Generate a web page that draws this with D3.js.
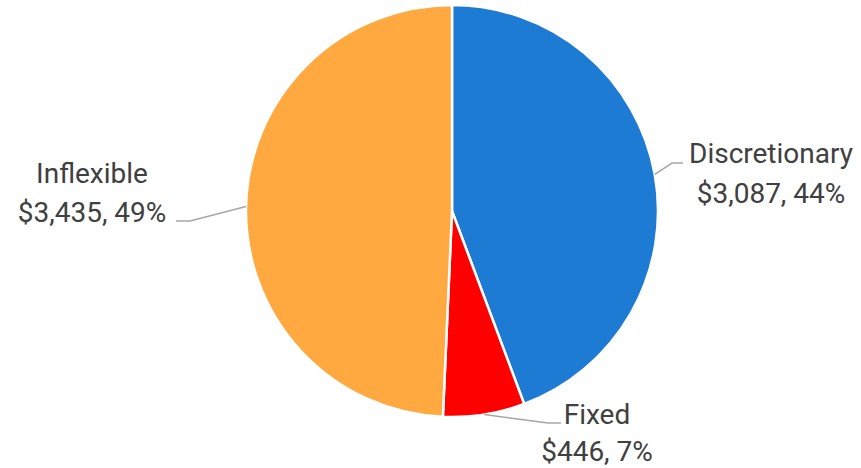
<!DOCTYPE html>
<html>
<head>
<meta charset="utf-8">
<script src="https://cdn.jsdelivr.net/npm/d3@7"></script>
<style>
  html, body { margin: 0; padding: 0; background: #fff; }
  svg { display: block; }
  text { font-family: Roboto, "Noto Sans", sans-serif; fill: #404040; }
</style>
</head>
<body>
<svg id="chart" width="861" height="468"></svg>
<script>
// Spending breakdown
const categories = ["Discretionary", "Fixed", "Inflexible"];
const amounts = [3087, 446, 3435];
const percentLabels = ["44%", "7%", "49%"];
const colors = ["#1E7BD3", "#FF0000", "#FFA940"];

const width = 861, height = 468;
const cx = 452, cy = 211, radius = 206;

const svg = d3.select("#chart");
const g = svg.append("g").attr("transform", `translate(${cx},${cy})`);

const data = categories.map((c, i) => ({
  name: c, value: amounts[i], pct: percentLabels[i], color: colors[i]
}));

const pie = d3.pie().value(d => d.value).sort(null);
const arc = d3.arc().innerRadius(0).outerRadius(radius);
const arcs = pie(data);

g.selectAll("path.slice")
  .data(arcs)
  .join("path")
  .attr("class", "slice")
  .attr("d", arc)
  .attr("fill", d => d.data.color)
  .attr("stroke", "#fff")
  .attr("stroke-width", 2.5)
  .attr("stroke-linejoin", "round");

const fmt = d3.format("$,");

// label layout: elbow point, line end, text centre, first baseline and line gap (relative to pie centre)
const layout = {
  "Discretionary": { elbow: [220, -48], end: [231, -48], tx: 319, ty: -48, gap: 40 },
  "Fixed":         { elbow: [96, 212], end: [109, 212], tx: 145, ty: 213, gap: 37 },
  "Inflexible":    { elbow: [-262, 10], end: [-276, 10], tx: -360, ty: -28, gap: 39 }
};

arcs.forEach(a => {
  const L = layout[a.data.name];
  const mid = (a.startAngle + a.endAngle) / 2;
  const p0 = [radius * Math.sin(mid), -radius * Math.cos(mid)];
  g.append("polyline")
    .attr("points", [p0, L.elbow, L.end].map(p => p.join(",")).join(" "))
    .attr("fill", "none")
    .attr("stroke", "#A6A6A6")
    .attr("stroke-width", 1.5);

  const t = g.append("text")
    .attr("text-anchor", "middle")
    .attr("font-size", 28);
  t.append("tspan").attr("x", L.tx).attr("y", L.ty).text(a.data.name);
  t.append("tspan").attr("x", L.tx).attr("y", L.ty + L.gap).text(fmt(a.data.value) + ", " + a.data.pct);
});
</script>
</body>
</html>
